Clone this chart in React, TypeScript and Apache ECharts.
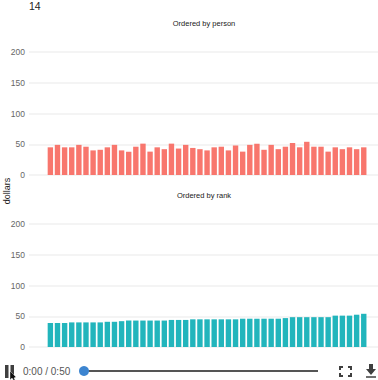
import React, { useEffect, useRef } from "react";
import * as echarts from "echarts";

const frameLabel = "14";
const titles = ["Ordered by person", "Ordered by rank"];
const yLabel = "dollars";
const timeLabel = "0:00 / 0:50";
const yTicks = { min: 0, max: 200, interval: 50 };

const byPerson = [
  45, 49, 45, 45, 49, 46, 40, 41, 45, 49, 40, 38, 46, 51, 38, 45, 42, 51, 43, 49,
  44, 42, 40, 45, 46, 40, 48, 38, 49, 51, 41, 49, 42, 46, 52, 45, 54, 46, 46, 38,
  45, 42, 45, 42, 45,
];
const byRank = [
  39, 39, 39, 40, 40, 40, 40, 40, 41, 41, 42, 43, 43, 43, 43, 43, 43, 44, 44, 44,
  45, 45, 45, 45, 45, 45, 45, 46, 46, 46, 46, 46, 46, 47, 48.5, 48.5, 48.5, 48.5, 48.5, 48.5,
  51, 51, 51, 52.5, 54,
];

const toPairs = (values: number[]) => values.map((v, i) => [i + 1, v]);
const FONT = "'Liberation Sans', Arial, sans-serif";

export default function App() {
  const ref = useRef<HTMLDivElement>(null);
  useEffect(() => {
    const chart = echarts.init(ref.current!, null, { renderer: "svg" });
    const iconColor = "#3f3f3f";
    const corner = (points: number[][]) => ({
      type: "polyline",
      shape: { points },
      style: { stroke: iconColor, lineWidth: 2, fill: "none" },
    });
    const titleText = (text: string, y: number) => ({
      type: "text", x: 204, y,
      style: { text, fontFamily: FONT, fontSize: 7.5, fill: "#222", align: "center", verticalAlign: "middle" },
    });
    chart.setOption({
      animation: false,
      backgroundColor: "#ffffff",
      grid: [
        { left: 29, right: 0, top: 52, height: 123 },
        { left: 29, right: 0, top: 224, height: 123 },
      ],
      xAxis: [0, 1].map((g) => ({
        type: "value", gridIndex: g, min: -2, max: 47, show: false,
      })),
      yAxis: [0, 1].map((g) => ({
        type: "value", gridIndex: g, ...yTicks,
        axisLine: { show: false },
        axisTick: { show: false },
        axisLabel: { fontFamily: FONT, fontSize: 8.5, color: "#666", margin: 4 },
        splitLine: { lineStyle: { color: "#f0f0f0", width: 1.5 } },
      })),
      series: [
        { type: "bar", xAxisIndex: 0, yAxisIndex: 0, data: toPairs(byPerson), barWidth: 5.4, itemStyle: { color: "#F8766D" } },
        { type: "bar", xAxisIndex: 1, yAxisIndex: 1, data: toPairs(byRank), barWidth: 5.4, itemStyle: { color: "#22B5BC" } },
      ],
      graphic: [
        titleText(titles[0], 23),
        titleText(titles[1], 195),
        { type: "text", x: 29, y: 0, style: { text: frameLabel, fontFamily: FONT, fontSize: 10.5, fill: "#222" } },
        { type: "text", x: 7, y: 191, rotation: Math.PI / 2, style: { text: yLabel, fontFamily: FONT, fontSize: 9, fill: "#222", align: "center", verticalAlign: "middle" } },
        { type: "rect", shape: { x: 5, y: 365, width: 3.5, height: 13 }, style: { fill: iconColor } },
        { type: "rect", shape: { x: 10.5, y: 365, width: 3.5, height: 13 }, style: { fill: iconColor } },
        { type: "polygon", shape: { points: [[10, 371], [10, 380], [12, 378], [14, 381], [15, 380], [14, 378], [16, 377]] }, style: { fill: "#111", stroke: "#fff", lineWidth: 0.4 } },
        { type: "text", x: 23, y: 371, style: { text: timeLabel, fontFamily: FONT, fontSize: 10, fill: "#555", verticalAlign: "middle" } },
        { type: "line", shape: { x1: 84, y1: 371, x2: 318, y2: 371 }, style: { stroke: "#555", lineWidth: 2 } },
        { type: "circle", shape: { cx: 84, cy: 371, r: 5 }, style: { fill: "#3d85d0" } },
        corner([[340, 370], [340, 367], [343, 367]]),
        corner([[348, 367], [351, 367], [351, 370]]),
        corner([[340, 373], [340, 376], [343, 376]]),
        corner([[348, 376], [351, 376], [351, 373]]),
        { type: "polygon", shape: { points: [[369, 364], [373, 364], [373, 369], [376, 369], [371, 375], [366, 369], [369, 369]] }, style: { fill: iconColor } },
        { type: "line", shape: { x1: 366, y1: 377, x2: 376, y2: 377 }, style: { stroke: iconColor, lineWidth: 1.5 } },
      ],
    });
    return () => chart.dispose();
  }, []);
  return <div ref={ref} style={{ position: "fixed", left: 0, top: 0, width: 378, height: 380 }} />;
}
